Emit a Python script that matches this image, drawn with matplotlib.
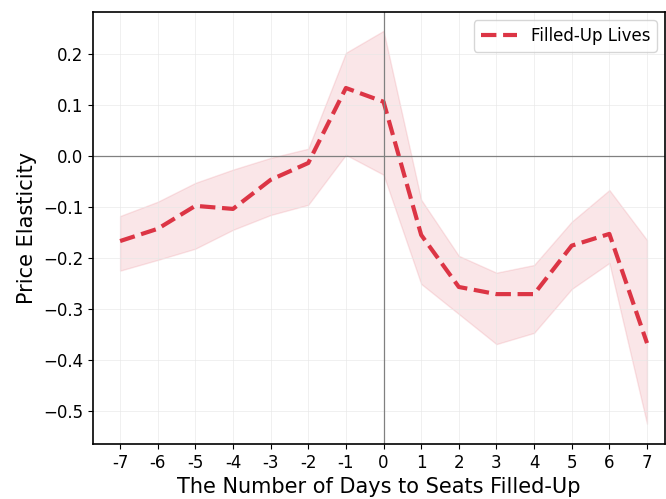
import matplotlib
matplotlib.use("Agg")
import matplotlib.pyplot as plt

days = [-7, -6, -5, -4, -3, -2, -1, 0, 1, 2, 3, 4, 5, 6, 7]
elasticity = [-0.167, -0.143, -0.098, -0.104, -0.047, -0.014, 0.133, 0.106,
              -0.155, -0.257, -0.271, -0.271, -0.176, -0.153, -0.367]
upper = [-0.118, -0.090, -0.053, -0.027, -0.004, 0.014, 0.202, 0.245,
         -0.086, -0.196, -0.229, -0.214, -0.129, -0.067, -0.165]
lower = [-0.225, -0.204, -0.182, -0.145, -0.116, -0.096, 0.002, -0.037,
         -0.251, -0.310, -0.369, -0.347, -0.261, -0.210, -0.525]
yticks = [0.2, 0.1, 0.0, -0.1, -0.2, -0.3, -0.4, -0.5]

color = "#dc3545"

fig = plt.figure(figsize=(6.66, 4.99), dpi=100)
ax = fig.add_axes([0.1396, 0.110, 0.859, 0.866])

ax.fill_between(days, lower, upper, color=color, alpha=0.12, linewidth=1)
ax.plot(days, elasticity, linestyle="--", color=color, linewidth=3,
        label="Filled-Up Lives")
ax.axhline(0, color="gray", linewidth=0.9)
ax.axvline(0, color="gray", linewidth=0.9)

ax.set_xlim(-7.72, 7.48)
ax.set_ylim(-0.565, 0.282)
ax.set_xticks(days)
ax.set_xticklabels([str(d) for d in days])
ax.set_yticks(yticks)
ax.tick_params(labelsize=12)
for s in ax.spines.values():
    s.set_linewidth(1.2)
ax.grid(True, color="#e6e6e6", linewidth=0.6, alpha=0.7)
ax.set_xlabel("The Number of Days to Seats Filled-Up", fontsize=15)
ax.set_ylabel("Price Elasticity", fontsize=15)
ax.legend(loc="upper right", fontsize=12, handlelength=2.2)

fig.savefig("out.png", dpi=100)
